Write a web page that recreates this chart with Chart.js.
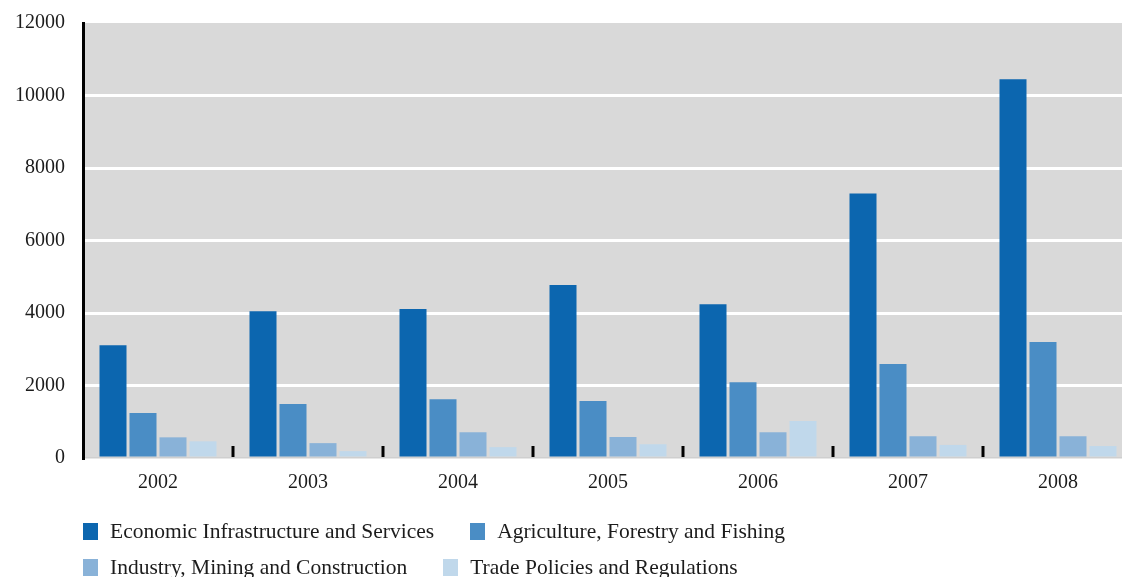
<!DOCTYPE html>
<html>
<head>
<meta charset="utf-8">
<script src="https://cdn.jsdelivr.net/npm/chart.js@4.4.1/dist/chart.umd.min.js"></script>
<style>
  html, body { margin: 0; padding: 0; background: #fff; overflow: hidden; }
  #wrap { position: relative; width: 1122px; height: 577px; overflow: hidden; }
  #box { position: absolute; left: 0; top: -7px; width: 1133px; height: 577px; }
  #legend {
    position: absolute; left: 83px; top: 520px; width: 780px;
    display: flex; flex-wrap: wrap; column-gap: 36px; row-gap: 14px;
    font-family: "Liberation Serif", serif; font-size: 21.5px; color: #1c1c1c;
  }
  #legend .item { display: flex; align-items: center; height: 22px; white-space: nowrap; }
  #legend .sw { width: 15px; height: 17px; margin-right: 12px; }
</style>
</head>
<body>
<div id="wrap">
  <div id="box"><canvas id="aidChart"></canvas></div>
  <div id="legend"></div>
</div>
<script>
  const years = ['2002', '2003', '2004', '2005', '2006', '2007', '2008'];

  const economicInfra = [3110, 4050, 4110, 4770, 4240, 7300, 10450];
  const agriculture   = [1240, 1490, 1620, 1570, 2090, 2590, 3200];
  const industry      = [570, 410, 710, 580, 710, 600, 600];
  const tradePolicy   = [460, 190, 300, 380, 1020, 360, 330];

  const seriesNames = [
    'Economic Infrastructure and Services',
    'Agriculture, Forestry and Fishing',
    'Industry, Mining and Construction',
    'Trade Policies and Regulations'
  ];
  const seriesColors = ['#0c66af', '#4a8dc5', '#89b2d8', '#c0d8eb'];
  const seriesData = [economicInfra, agriculture, industry, tradePolicy];

  const serif = '"Liberation Serif", serif';

  // grey plot background
  const plotBg = {
    id: 'plotBg',
    beforeDraw(chart) {
      const a = chart.chartArea, c = chart.ctx;
      c.save();
      c.fillStyle = '#d9d9d9';
      c.fillRect(a.left, a.top, a.right - a.left, a.bottom - a.top);
      c.restore();
    }
  };

  // short black marks between the year groups, sitting on the baseline
  const groupMarks = {
    id: 'groupMarks',
    afterDatasetsDraw(chart) {
      const x = chart.scales.x, a = chart.chartArea, c = chart.ctx;
      c.save();
      c.strokeStyle = '#000';
      c.lineWidth = 3;
      for (let i = 1; i < years.length; i++) {
        const px = (x.getPixelForTick(i - 1) + x.getPixelForTick(i)) / 2;
        c.beginPath();
        c.moveTo(px, a.bottom - 12);
        c.lineTo(px, a.bottom - 1);
        c.stroke();
      }
      c.restore();
    }
  };

  const chart = new Chart(document.getElementById('aidChart'), {
    type: 'bar',
    data: {
      labels: years,
      datasets: seriesData.map((d, i) => ({
        label: seriesNames[i],
        data: d,
        backgroundColor: seriesColors[i],
        borderWidth: 0,
        categoryPercentage: 0.8,
        barPercentage: 0.9
      }))
    },
    options: {
      responsive: true,
      maintainAspectRatio: false,
      animation: false,
      layout: { autoPadding: false, padding: { top: 23, right: 0, bottom: 62, left: 0 } },
      plugins: {
        legend: { display: false },
        tooltip: { enabled: false }
      },
      scales: {
        x: {
          grid: { display: false, drawTicks: false },
          border: { display: true, color: '#cfcfcf', width: 1.5 },
          ticks: { color: '#1c1c1c', padding: 13, font: { family: serif, size: 20 } },
          afterFit(scale) { scale.height = 50; }
        },
        y: {
          min: 0,
          max: 12000,
          grid: {
            drawTicks: false,
            lineWidth: 3,
            color: (ctx) => (ctx.tick && (ctx.tick.value === 0 || ctx.tick.value === 12000)) ? 'rgba(0,0,0,0)' : '#ffffff'
          },
          border: { display: true, color: '#000', width: 3 },
          ticks: {
            stepSize: 2000,
            padding: 18,
            color: '#1c1c1c',
            font: { family: serif, size: 20 },
            callback: (v) => String(v)
          },
          afterFit(scale) { scale.width = 83; }
        }
      }
    },
    plugins: [plotBg, groupMarks]
  });

  // legend below the plot
  const legendEl = document.getElementById('legend');
  chart.data.datasets.forEach((ds) => {
    const item = document.createElement('div');
    item.className = 'item';
    const sw = document.createElement('span');
    sw.className = 'sw';
    sw.style.background = ds.backgroundColor;
    const txt = document.createElement('span');
    txt.textContent = ds.label;
    item.appendChild(sw);
    item.appendChild(txt);
    legendEl.appendChild(item);
  });
</script>
</body>
</html>
